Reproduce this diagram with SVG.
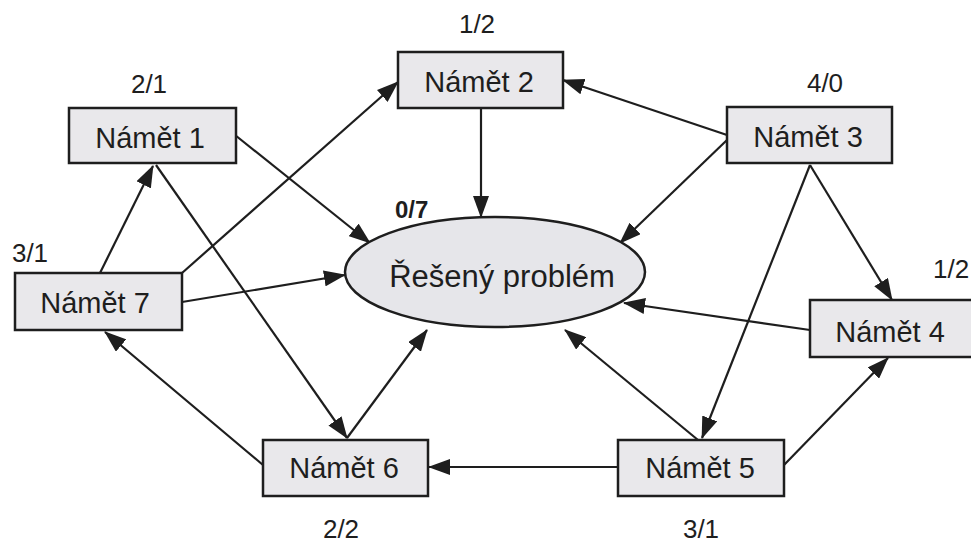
<svg xmlns="http://www.w3.org/2000/svg" width="971" height="543" viewBox="0 0 971 543">
<style>
.box{fill:#e9e8eb;stroke:#1e1e1e;stroke-width:2.5}
.nt{font-family:"Liberation Sans",Arial,sans-serif;font-size:29px;fill:#1e1e1e;text-anchor:middle}
.lb{font-family:"Liberation Sans",Arial,sans-serif;font-size:26px;fill:#1e1e1e;text-anchor:middle}
.cn line{stroke:#1e1e1e;stroke-width:2.2;marker-end:url(#ah)}
</style>
<defs>
<marker id="ah" viewBox="0 0 22 16" refX="21" refY="8" markerWidth="22" markerHeight="16" markerUnits="userSpaceOnUse" orient="auto">
<path d="M0,0 L22,8 L0,16 z" fill="#1e1e1e"/>
</marker>
</defs>
<rect width="971" height="543" fill="#ffffff"/>
<g id="connectors" class="cn">
<line x1="235" y1="135" x2="370" y2="243"/>
<line x1="156" y1="165" x2="347" y2="438"/>
<line x1="100" y1="273" x2="153" y2="166"/>
<line x1="182" y1="273" x2="398" y2="82"/>
<line x1="182" y1="302" x2="345" y2="275"/>
<line x1="263" y1="465" x2="105" y2="332"/>
<line x1="347" y1="438" x2="427" y2="330"/>
<line x1="618" y1="467" x2="429" y2="467"/>
<line x1="698" y1="440" x2="565" y2="330"/>
<line x1="784" y1="465" x2="888" y2="358"/>
<line x1="810" y1="330" x2="624" y2="303"/>
<line x1="727" y1="135" x2="563" y2="80"/>
<line x1="727" y1="140" x2="620" y2="243"/>
<line x1="810" y1="165" x2="892" y2="300"/>
<line x1="810" y1="165" x2="702" y2="438"/>
<line x1="481" y1="108" x2="481" y2="217"/>
</g>
<g id="problem">
<ellipse cx="495" cy="272" rx="150" ry="55" fill="#e6e6ea" stroke="#1e1e1e" stroke-width="2.5"/>
<text x="502" y="287" class="nt" style="font-size:31px">Řešený problém</text>
<text x="395" y="218" style="font-family:'Liberation Sans',Arial,sans-serif;font-size:24px;font-weight:bold;fill:#1e1e1e">0/7</text>
</g>
<g id="n1">
<rect x="69" y="108" width="167" height="55" class="box"/>
<text x="150" y="148" class="nt">Námět 1</text>
<text x="149" y="93" class="lb">2/1</text>
</g>
<g id="n2">
<rect x="398" y="52" width="165" height="56" class="box"/>
<text x="479" y="92" class="nt">Námět 2</text>
<text x="477" y="33" class="lb">1/2</text>
</g>
<g id="n3">
<rect x="727" y="107" width="165" height="56" class="box"/>
<text x="808" y="147" class="nt">Námět 3</text>
<text x="825" y="92" class="lb">4/0</text>
</g>
<g id="n4">
<rect x="810" y="300" width="168" height="57" class="box"/>
<text x="890" y="342" class="nt">Námět 4</text>
<text x="933" y="278" class="lb" style="text-anchor:start">1/2</text>
</g>
<g id="n5">
<rect x="618" y="440" width="166" height="56" class="box"/>
<text x="700" y="478" class="nt">Námět 5</text>
<text x="701" y="538" class="lb">3/1</text>
</g>
<g id="n6">
<rect x="263" y="440" width="165" height="56" class="box"/>
<text x="344" y="478" class="nt">Námět 6</text>
<text x="341" y="538" class="lb">2/2</text>
</g>
<g id="n7">
<rect x="15" y="273" width="167" height="57" class="box"/>
<text x="95" y="313" class="nt">Námět 7</text>
<text x="30" y="262" class="lb">3/1</text>
</g>
</svg>
